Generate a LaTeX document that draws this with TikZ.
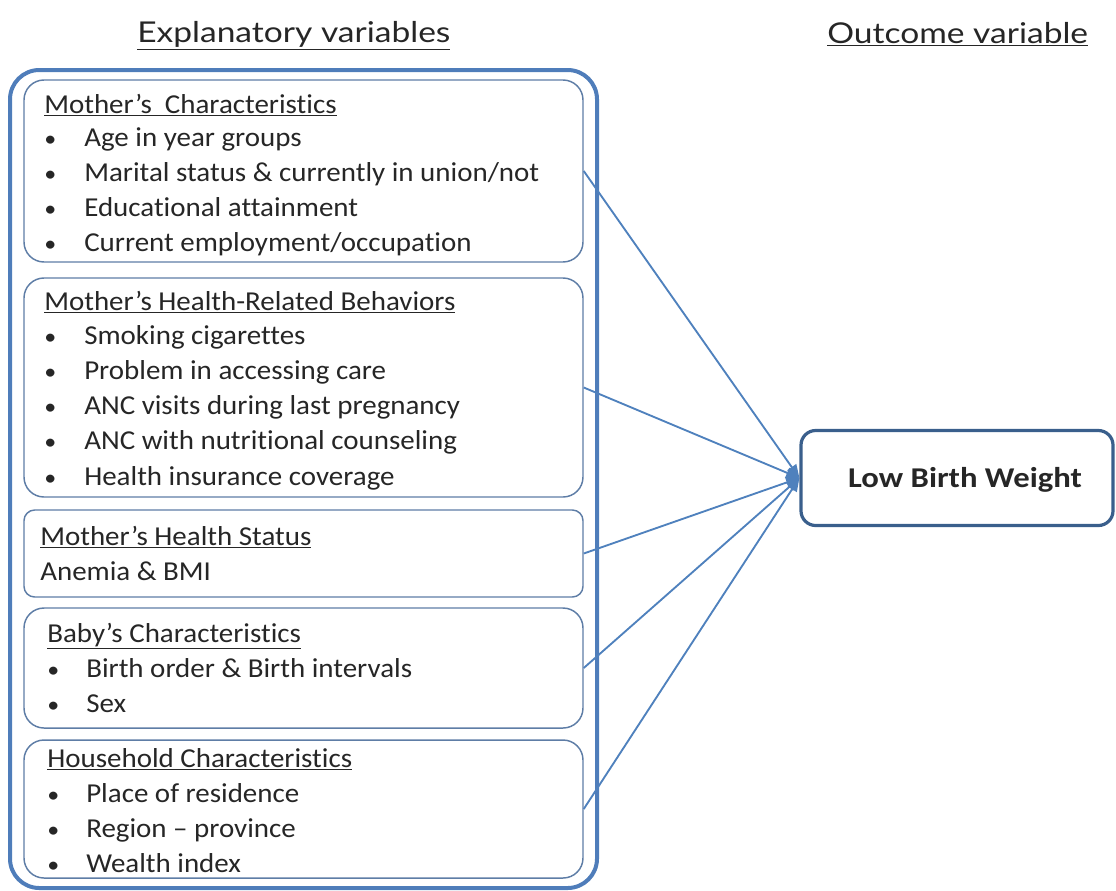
\documentclass[tikz,border=0pt]{standalone}
\usepackage{fontspec}
\setmainfont{Carlito}[FakeStretch=1.06,Ligatures=NoCommon]
\newfontfamily\lbwfont{Carlito}[FakeStretch=1.14,Ligatures=NoCommon]
\newfontfamily\headfont{Lato}[FakeStretch=1.17,Ligatures=NoCommon]
\usetikzlibrary{arrows.meta}
\definecolor{outerblue}{HTML}{4F7DBA}
\definecolor{innerblue}{HTML}{5E7DA6}
\definecolor{arrowblue}{HTML}{4F81BD}
\definecolor{lbwblue}{HTML}{3A5F8C}
\definecolor{txt}{HTML}{262626}
\tikzset{
  box/.style={draw=innerblue, line width=1.1pt, rounded corners=15pt, minimum width=419.25pt, inner sep=0pt, anchor=center},
  lbl/.style={anchor=base west, inner sep=0pt, font=\fontsize{20.5pt}{24pt}\selectfont, text=txt},
  bul/.style={anchor=base west, inner sep=0pt, font=\fontsize{17pt}{20pt}\selectfont, text=txt},
  head/.style={anchor=base west, inner sep=0pt, font=\headfont\fontsize{21.5pt}{25pt}\selectfont, text=txt},
  conn/.style={draw=arrowblue, line width=1.4pt, -{Triangle[length=10pt,width=8pt]}},
}
\begin{document}
\begin{tikzpicture}[x=0.75pt,y=-0.75pt]
\useasboundingbox (0,0) rectangle (1116,890);
% headers
\node[head] (h1) at (137,42) {\underline{Explanatory variables}};
\node[head] (h2) at (827,43) {\underline{Outcome variable}};
% outer box
\node[draw=outerblue, line width=3pt, rounded corners=22pt, minimum width=440.25pt, minimum height=613.5pt, inner sep=0pt] (outer) at (303.5,479) {};
% boxes
\node[box, minimum height=136.5pt] (b1) at (303.5,171) {};
\node[box, minimum height=164.25pt] (b2) at (303.5,387.5) {};
\node[box, minimum height=65.25pt, rounded corners=8pt] (b3) at (303.5,553.5) {};
\node[box, minimum height=90pt] (b4) at (303.5,668) {};
\node[box, minimum height=103.5pt] (b5) at (303.5,809) {};
% box 1
\node[lbl] (t1) at (44,113) {\underline{Mother’s\ \ Characteristics}};
\node[bul] (p11) at (44,146) {•}; \node[lbl] (l11) at (84,146) {Age in year groups};
\node[bul] (p12) at (44,181) {•}; \node[lbl] (l12) at (84,181) {Marital status \& currently in union/not};
\node[bul] (p13) at (44,216) {•}; \node[lbl] (l13) at (84,216) {Educational attainment};
\node[bul] (p14) at (44,251) {•}; \node[lbl] (l14) at (84,251) {Current employment/occupation};
% box 2
\node[lbl] (t2) at (44,310) {\underline{Mother’s Health-Related Behaviors}};
\node[bul] (p21) at (44,344) {•}; \node[lbl] (l21) at (84,344) {Smoking cigarettes};
\node[bul] (p22) at (44,379) {•}; \node[lbl] (l22) at (84,379) {Problem in accessing care};
\node[bul] (p23) at (44,414) {•}; \node[lbl] (l23) at (84,414) {ANC visits during last pregnancy};
\node[bul] (p24) at (44,449) {•}; \node[lbl] (l24) at (84,449) {ANC with nutritional counseling};
\node[bul] (p25) at (44,485) {•}; \node[lbl] (l25) at (84,485) {Health insurance coverage};
% box 3
\node[lbl] (t3) at (40,545) {\underline{Mother’s Health Status}};
\node[lbl] (l31) at (40,580) {Anemia \& BMI};
% box 4
\node[lbl] (t4) at (47,642) {\underline{Baby’s Characteristics}};
\node[bul] (p41) at (47,677) {•}; \node[lbl] (l41) at (86,677) {Birth order \& Birth intervals};
\node[bul] (p42) at (47,712) {•}; \node[lbl] (l42) at (86,712) {Sex};
% box 5
\node[lbl] (t5) at (47,767) {\underline{Household Characteristics}};
\node[bul] (p51) at (47,802) {•}; \node[lbl] (l51) at (86,802) {Place of residence};
\node[bul] (p52) at (47,837) {•}; \node[lbl] (l52) at (86,837) {Region – province};
\node[bul] (p53) at (47,872) {•}; \node[lbl] (l53) at (86,872) {Wealth index};
% outcome box
\node[draw=lbwblue, line width=2.4pt, rounded corners=11pt, minimum width=234pt, minimum height=71.25pt, inner sep=0pt] (lbw) at (957,478) {};
\node[anchor=base, inner sep=0pt, font=\lbwfont\bfseries\fontsize{21.5pt}{25pt}\selectfont, text=txt] (lbwt) at (965,487) {Low Birth Weight};
% connectors
\draw[conn] (b1.east) -- (lbw.west);
\draw[conn] (b2.east) -- (lbw.west);
\draw[conn] (b3.east) -- (lbw.west);
\draw[conn] (b4.east) -- (lbw.west);
\draw[conn] (b5.east) -- (lbw.west);
\end{tikzpicture}
\end{document}
